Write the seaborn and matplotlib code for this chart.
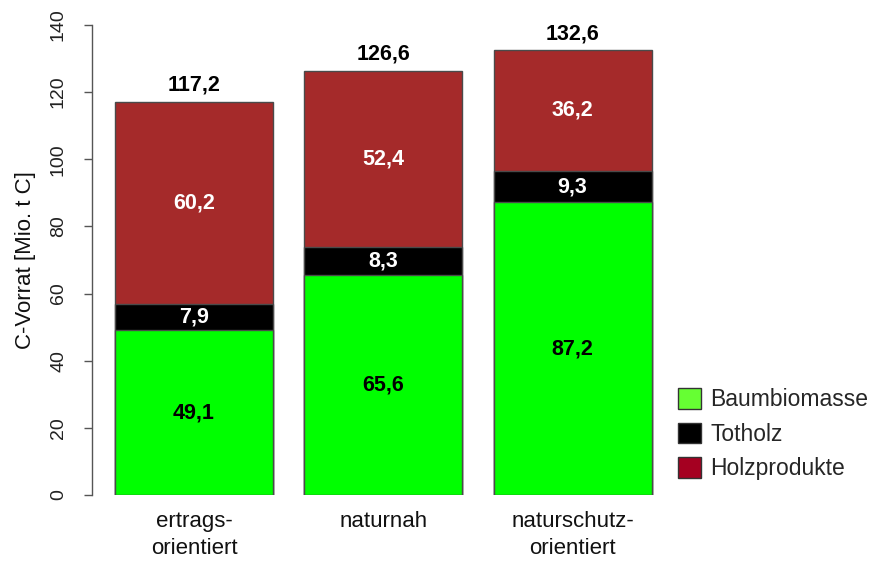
import matplotlib
matplotlib.use("Agg")
import matplotlib.pyplot as plt
from matplotlib.patches import Patch
import seaborn as sns
import pandas as pd
import numpy as np

categories = ["ertrags-\norientiert", "naturnah", "naturschutz-\norientiert"]
baumbiomasse = [49.1, 65.6, 87.2]
totholz = [7.9, 8.3, 9.3]
holzprodukte = [60.2, 52.4, 36.2]
totals = [117.2, 126.6, 132.6]
series_names = ["Baumbiomasse", "Totholz", "Holzprodukte"]
ytick_values = [0, 20, 40, 60, 80, 100, 120, 140]

bar_colors = ["#00FF00", "#000000", "#A52A2A"]
legend_colors = ["#66FF33", "#000000", "#A50021"]
fmt = lambda v: f"{v:.1f}".replace(".", ",")

sns.set_style("white")
plt.rcParams["font.family"] = ["Liberation Sans", "DejaVu Sans"]

fig = plt.figure(figsize=(8.78, 5.62), dpi=100)
ax = fig.add_axes([92/878, 1-495/562, (660-92)/878, (495-25)/562])

df = pd.DataFrame({"cat": categories, "b": baumbiomasse, "t": totholz, "h": holzprodukte})
df["bt"] = df["b"] + df["t"]
df["bth"] = df["bt"] + df["h"]

width = 0.835
edge = "#4a4a4a"
sns.barplot(data=df, x="cat", y="bth", order=categories, color=bar_colors[2], saturation=1,
            width=width, edgecolor=edge, linewidth=1, ax=ax)
sns.barplot(data=df, x="cat", y="bt", order=categories, color=bar_colors[1], saturation=1,
            width=width, edgecolor=edge, linewidth=1, ax=ax)
sns.barplot(data=df, x="cat", y="b", order=categories, color=bar_colors[0], saturation=1,
            width=width, edgecolor=edge, linewidth=1, ax=ax)

lab_kw = dict(ha="center", va="center", fontsize=15.5, fontweight="bold")
for i in range(len(categories)):
    b, t, h = baumbiomasse[i], totholz[i], holzprodukte[i]
    ax.text(i, b / 2, fmt(b), color="black", **lab_kw)
    ax.text(i, b + t / 2, fmt(t), color="white", **lab_kw)
    ax.text(i, b + t + h / 2, fmt(h), color="white", **lab_kw)
    ax.annotate(fmt(totals[i]), (i, totals[i]), xytext=(0, 4), textcoords="offset points",
                ha="center", va="bottom", fontsize=15.5, fontweight="bold", color="black")

ax.set_xlim(-0.539, 2.462)
ax.set_ylim(0, 140)
ax.set_yticks(ytick_values)
ax.set_yticklabels([str(v) for v in ytick_values], rotation=90, va="center")
ax.tick_params(axis="y", left=True, length=6, width=1, color="#555555", pad=12,
               labelsize=14, labelcolor="#222222")
ax.tick_params(axis="x", bottom=False, pad=8, labelsize=16, labelcolor="#111111")
for lbl in ax.get_xticklabels():
    lbl.set_linespacing(1.35)
ax.set_xlabel("")
ax.set_ylabel("C-Vorrat [Mio. t C]", fontsize=16, color="#111111", labelpad=10)

for s in ["top", "right", "bottom"]:
    ax.spines[s].set_visible(False)
ax.spines["left"].set_color("#555555")
ax.spines["left"].set_linewidth(1)
ax.spines["left"].set_bounds(0, 140)
ax.set_facecolor("white")

handles = [Patch(facecolor=c, edgecolor="#333333", linewidth=1) for c in legend_colors]
fig.legend(handles, series_names, loc="upper left", bbox_to_anchor=(678/878, 1-388/562),
           frameon=False, fontsize=16.5, handlelength=1.0, handleheight=1.0,
           labelspacing=0.5, handletextpad=0.4, borderpad=0, borderaxespad=0)

fig.savefig("out.png", dpi=100, facecolor="white")
